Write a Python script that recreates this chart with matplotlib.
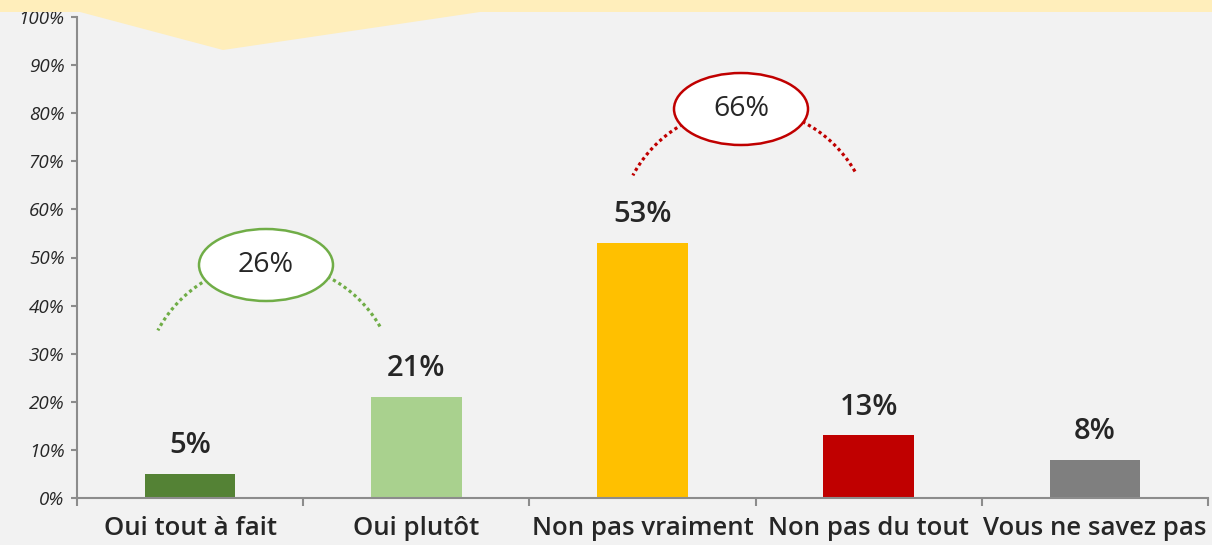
import matplotlib
matplotlib.use("Agg")
import matplotlib.pyplot as plt
import numpy as np
from matplotlib.patches import Ellipse, Polygon

# Données
categories = ["Oui tout à fait", "Oui plutôt", "Non pas vraiment", "Non pas du tout", "Vous ne savez pas"]
valeurs = [5, 21, 53, 13, 8]
couleurs = ["#548235", "#A9D18E", "#FFC000", "#C00000", "#7F7F7F"]
totaux = [26, 66]
couleurs_totaux = ["#70AD47", "#C00000"]

plt.rcParams['font.family'] = ['Open Sans', 'DejaVu Sans']

W, H = 1212, 545
fig = plt.figure(figsize=(W / 100, H / 100), dpi=100, facecolor="#F2F2F2")
ax = fig.add_axes([77 / W, 47 / H, (1208 - 77) / W, (498 - 17) / H])
ax.set_facecolor("#F2F2F2")

x = np.arange(len(categories))
ax.bar(x, valeurs, width=0.4, color=couleurs, zorder=2)

for xi, v in zip(x, valeurs):
    ax.annotate(f"{v}%", (xi, v), xytext=(0, 10), textcoords="offset points",
                ha="center", va="bottom", fontsize=21, color="#262626",
                fontweight="semibold")

ax.set_xlim(-0.5, len(categories) - 0.5)
ax.set_ylim(0, 100)
ax.set_yticks(np.arange(0, 101, 10))
ax.set_yticklabels([f"{t}%" for t in range(0, 101, 10)], fontsize=13.5,
                   style="italic", color="#262626")

# ticks aux frontières, étiquettes au centre
ax.set_xticks(np.arange(-0.5, len(categories), 1.0))
ax.set_xticklabels([])
ax.set_xticks(x, minor=True)
ax.set_xticklabels(categories, minor=True, fontsize=18.5, color="#262626",
                   fontweight="semibold")
ax.tick_params(axis="x", which="major", length=6, width=1.5, color="#8C8C8C")
ax.tick_params(axis="x", which="minor", length=0, pad=13)
ax.tick_params(axis="y", length=4, width=1.5, color="#8C8C8C", pad=5)

for s in ["top", "right"]:
    ax.spines[s].set_visible(False)
for s in ["left", "bottom"]:
    ax.spines[s].set_color("#8C8C8C")
    ax.spines[s].set_linewidth(1.5)

# échelle pixels -> données
px_x = (1208 - 77) / len(categories)
px_y = (498 - 17) / 100


def pixel_to_data(px, py):
    return (px - 77) / px_x - 0.5, (498 - py) / px_y


# arcs pointillés + ellipses des totaux
centres_arc = [(270, 390), (745, 235)]
centres_ell = [(266, 265), (741, 109)]
r = 127
t = np.radians(np.linspace(30, 152, 100))
for tot, col, ca, ce in zip(totaux, couleurs_totaux, centres_arc, centres_ell):
    cx, cy = pixel_to_data(*ca)
    ax.plot(cx + r / px_x * np.cos(t), cy + r / px_y * np.sin(t), color=col,
            lw=2.3, linestyle=(0, (1, 1)), zorder=3, clip_on=False)
    ex, ey = pixel_to_data(*ce)
    ax.add_patch(Ellipse((ex, ey), 134 / px_x, 72 / px_y, facecolor="white",
                         edgecolor=col, lw=1.8, zorder=4))
    ax.text(ex, ey, f"{tot}%", ha="center", va="center", fontsize=20.5,
            color="#262626", zorder=5)

# bandeau jaune en haut
bandeau = [(0, 0), (W, 0), (W, 12), (480, 12), (223, 50), (80, 12), (0, 12)]
fig.patches.append(Polygon([(px / W, 1 - py / H) for px, py in bandeau], closed=True,
                           transform=fig.transFigure, facecolor="#FFEEBB",
                           edgecolor="none", zorder=10))

fig.savefig("out.png", dpi=100, facecolor=fig.get_facecolor())
